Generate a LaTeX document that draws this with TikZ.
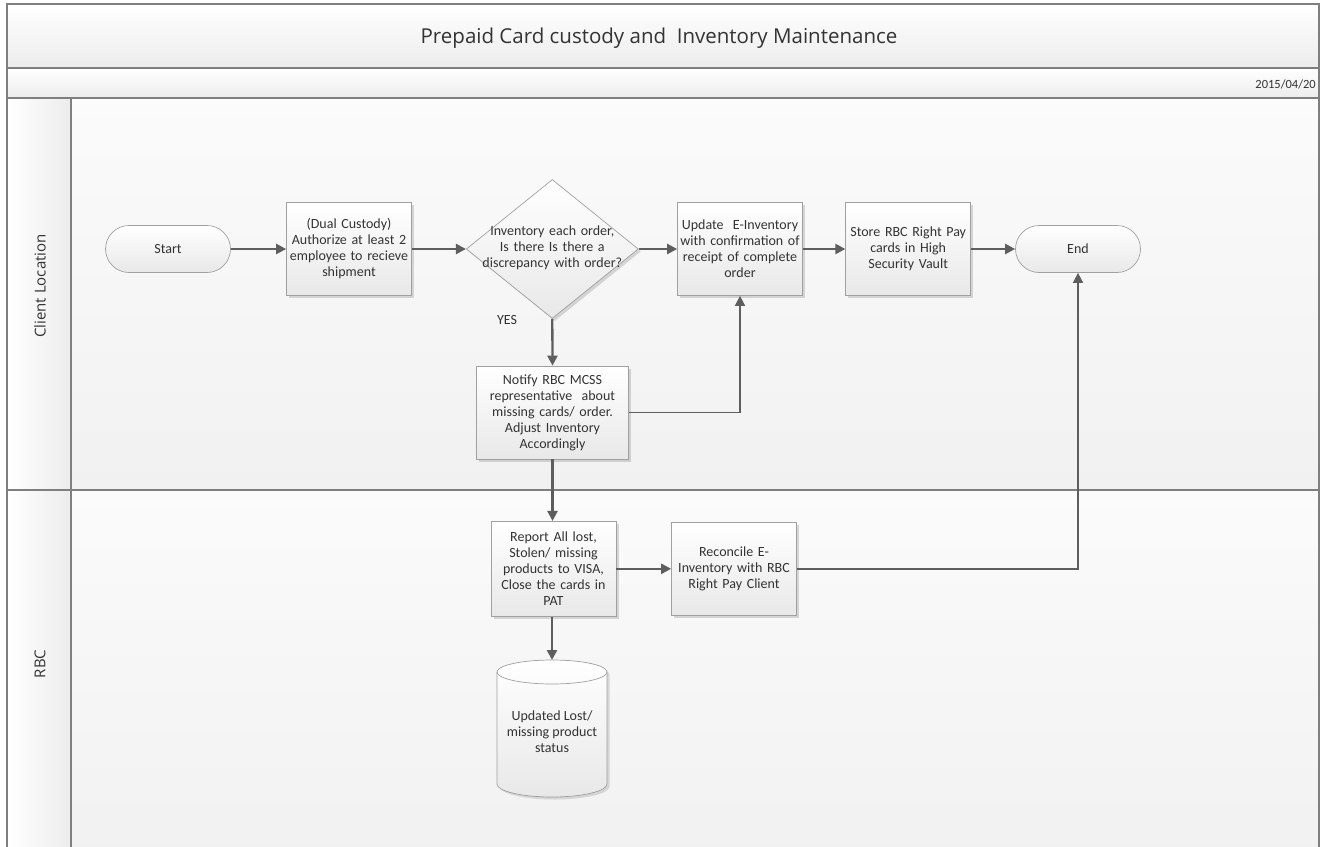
\documentclass[tikz,border=0pt]{standalone}
\usepackage{fontspec}
\setmainfont{Carlito}
\newfontfamily\headfont{Open Sans}
\usetikzlibrary{arrows.meta,shadows,shapes.geometric}
\definecolor{framec}{HTML}{7F7F7F}
\definecolor{boxline}{HTML}{A0A0A0}
\definecolor{boxbot}{HTML}{E8E8E8}
\definecolor{txt}{HTML}{333333}
\definecolor{arrowc}{HTML}{5E5E5E}
\definecolor{bandbot}{HTML}{ECECEC}
\definecolor{lanetop}{HTML}{FBFBFB}
\definecolor{lanebot}{HTML}{F1F1F1}
\begin{document}
\begin{tikzpicture}[x=1pt,y=-1pt,
  boxtext/.style={font=\fontsize{14}{16}\selectfont, text=txt, align=center},
  shad/.style={drop shadow={shadow xshift=2.5pt, shadow yshift=-2.5pt, opacity=0.14, fill=black}},
  box/.style={boxtext, shad, draw=boxline, line width=0.7pt, top color=white, bottom color=boxbot,
    minimum width=125pt, minimum height=93pt, text width=123pt, inner sep=1pt},
  term/.style={boxtext, draw=boxline, line width=0.7pt, top color=white, bottom color=boxbot,
    rounded corners=23.5pt, minimum width=125pt, minimum height=47pt, inner sep=2pt},
  dia/.style={diamond, shad, draw=boxline, line width=0.7pt, top color=white, bottom color=boxbot,
    minimum width=172pt, minimum height=139pt, inner sep=0pt},
  arr/.style={draw=arrowc, line width=2.3pt, -{Triangle[length=10pt,width=10pt]}},
  arrthin/.style={arr, line width=1.5pt},
  lanelabel/.style={rotate=90, text=txt, font=\headfont\fontsize{15}{18}\selectfont},
  frameline/.style={draw=framec, line width=1.2pt}
]
\useasboundingbox (0,0) rectangle (1325,846);
\clip (0,0) rectangle (1325,846);
\fill[white] (0,0) rectangle (1325,846);
% bands
\shade[top color=white, bottom color=bandbot] (7,4) rectangle (1319,68);
\shade[top color=white, bottom color=bandbot] (7,68) rectangle (1319,98);
% lanes
\shade[top color=lanetop, bottom color=lanebot] (71,98) rectangle (1319,490);
\shade[top color=lanetop, bottom color=lanebot] (71,490) rectangle (1319,860);
\shade[left color=white, right color=bandbot] (7,98) rectangle (71,490);
\shade[left color=white, right color=bandbot] (7,490) rectangle (71,860);
% frame lines
\draw[frameline] (7,860) -- (7,4) -- (1319,4) -- (1319,860);
\draw[frameline] (7,68) -- (1319,68);
\draw[frameline] (7,98) -- (1319,98);
\draw[frameline] (7,490) -- (1319,490);
\draw[frameline] (71,98) -- (71,860);

% texts of header
\node[anchor=base, text=txt, font=\headfont\fontsize{20.5}{24}\selectfont] (title) at (659,43.5)
  {Prepaid Card custody and~ Inventory Maintenance};
\node[anchor=base east, text=txt, inner sep=0pt, font=\fontsize{12.5}{14}\selectfont] (date) at (1316,88.3) {2015/04/20};
\node[lanelabel] (lane1) at (40,286) {Client Location};
\node[lanelabel] (lane2) at (40,664) {RBC};

% nodes
\node[term] (start) at (168,249) {Start};
\node[box] (dual) at (349,249) {(Dual Custody)\\Authorize at least 2\\employee to recieve\\shipment};
\node[dia] (d) at (552.3,249) {};
\node[boxtext, text width=150pt] (dtext) at (552.3,248) {Inventory each order,\\Is there Is there a\\discrepancy with order?};
\node[box] (upd) at (740,249) {Update~ E-Inventory\\with confirmation of\\receipt of complete\\order};
\node[box] (store) at (908.2,249) {Store RBC Right Pay\\cards in High\\Security Vault};
\node[term] (end) at (1078,249) {End};
\node[boxtext] (yes) at (507,320) {YES};
\node[box, minimum width=151.6pt, text width=148pt] (notify) at (552.5,412.5)
  {Notify RBC MCSS\\representative~ about\\missing cards/ order.\\Adjust Inventory\\Accordingly};
\node[box, minimum width=124pt, minimum height=95pt] (report) at (553.5,568.8)
  {Report All lost,\\Stolen/ missing\\products to VISA,\\Close the cards in\\PAT};
\node[box, minimum width=124.3pt] (recon) at (734,568.8)
  {Reconcile E-\\Inventory with RBC\\Right Pay Client};

% cylinder (data store)
\coordinate (cyltop) at (552,660);
\fill[black, opacity=0.12] (499.5,674.5) arc[start angle=180, end angle=0, x radius=55pt, y radius=12pt]
  -- (609.5,786.5) arc[start angle=0, end angle=-180, x radius=55pt, y radius=13pt] -- cycle;
\shade[top color=white, bottom color=boxbot, draw=boxline, line width=0.7pt]
  (497,672) arc[start angle=180, end angle=0, x radius=55pt, y radius=12pt]
  -- (607,784) arc[start angle=0, end angle=-180, x radius=55pt, y radius=13pt] -- cycle;
\draw[boxline, line width=0.7pt] (497,672) arc[start angle=180, end angle=360, x radius=55pt, y radius=12pt];
\node[boxtext] (cyl) at (552,732) {Updated Lost/\\missing product\\status};

% connectors
\draw[arr] (start) -- (dual);
\draw[arr] (dual) -- (d);
\draw[arr] (d) -- (upd);
\draw[arr] (upd) -- (store);
\draw[arr] (store) -- (end);
\draw[arr] (d.south) -- (notify.north);
\draw[arrthin] (notify.east) -| (upd.south);
\draw[arr] (notify.south) -- (notify.south |- report.north);
\draw[arr] (report) -- (recon);
\draw[arr] (report.south -| cyltop) -- (cyltop);
\draw[arrthin] (recon.east) -| (end.south);
\end{tikzpicture}
\end{document}
